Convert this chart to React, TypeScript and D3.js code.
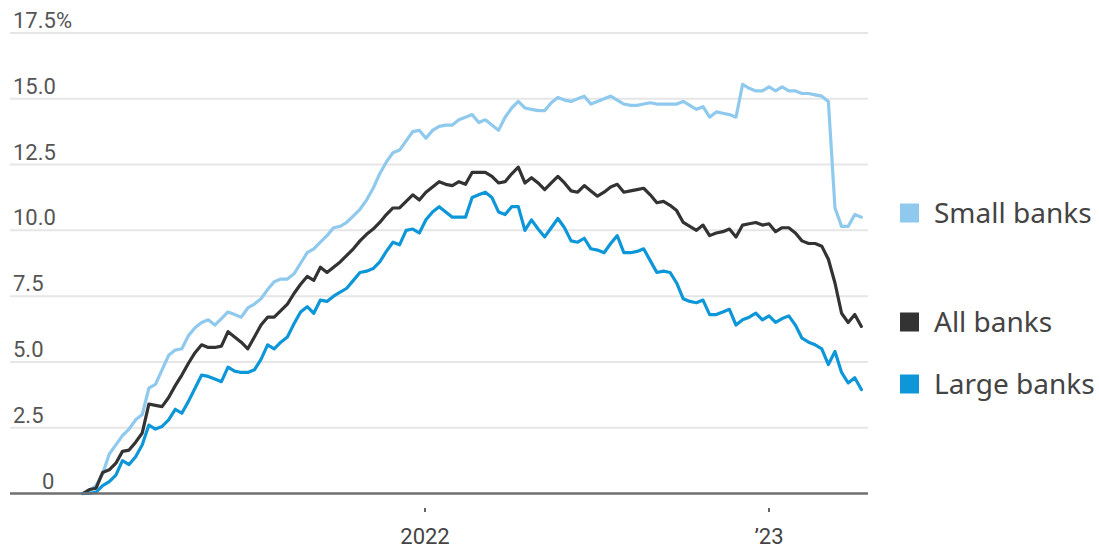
import * as d3 from 'd3';

// weekly readings, first week ending 2021-01-03
const startDate = new Date(2021, 0, 3);

const smallBanks = [
  0, 0.1, 0.3, 0.75, 1.5, 1.85, 2.2, 2.45, 2.8, 3.0,
  4.0, 4.15, 4.7, 5.25, 5.45, 5.5, 6.0, 6.3, 6.5, 6.6,
  6.4, 6.65, 6.9, 6.8, 6.7, 7.05, 7.2, 7.4, 7.75, 8.05,
  8.15, 8.15, 8.35, 8.75, 9.15, 9.3, 9.55, 9.8, 10.1, 10.15,
  10.3, 10.55, 10.8, 11.15, 11.6, 12.15, 12.6, 12.95, 13.05, 13.4,
  13.75, 13.8, 13.5, 13.8, 13.95, 14.0, 14.0, 14.2, 14.3, 14.4,
  14.1, 14.2, 14.0, 13.8, 14.3, 14.65, 14.9, 14.65, 14.6, 14.55,
  14.55, 14.85, 15.05, 14.95, 14.9, 15.0, 15.1, 14.8, 14.9, 15.0,
  15.1, 14.95, 14.8, 14.75, 14.75, 14.8, 14.85, 14.8, 14.8, 14.8,
  14.8, 14.9, 14.75, 14.6, 14.7, 14.3, 14.5, 14.45, 14.4, 14.3,
  15.55, 15.4, 15.3, 15.3, 15.45, 15.3, 15.45, 15.3, 15.3, 15.2,
  15.2, 15.15, 15.1, 14.9, 10.85, 10.15, 10.15, 10.6, 10.5,
];

const allBanks = [
  0, 0.15, 0.2, 0.8, 0.9, 1.15, 1.6, 1.65, 1.95, 2.3,
  3.4, 3.35, 3.3, 3.65, 4.1, 4.5, 4.95, 5.35, 5.65, 5.55,
  5.55, 5.6, 6.15, 5.95, 5.75, 5.5, 5.95, 6.4, 6.7, 6.7,
  6.95, 7.2, 7.6, 7.95, 8.25, 8.1, 8.6, 8.4, 8.6, 8.8,
  9.05, 9.3, 9.6, 9.85, 10.05, 10.3, 10.6, 10.85, 10.85, 11.1,
  11.35, 11.15, 11.45, 11.65, 11.85, 11.75, 11.7, 11.85, 11.75, 12.2,
  12.2, 12.2, 12.05, 11.8, 11.85, 12.15, 12.4, 11.8, 12.0, 11.8,
  11.55, 11.8, 12.05, 11.8, 11.5, 11.45, 11.7, 11.5, 11.3, 11.45,
  11.65, 11.75, 11.45, 11.5, 11.55, 11.6, 11.35, 11.05, 11.1, 10.95,
  10.75, 10.3, 10.15, 10.0, 10.2, 9.8, 9.9, 9.95, 10.05, 9.75,
  10.2, 10.25, 10.3, 10.2, 10.25, 9.95, 10.1, 10.1, 9.9, 9.6,
  9.5, 9.5, 9.4, 8.9, 8.0, 6.85, 6.5, 6.8, 6.35,
];

const largeBanks = [
  0, 0, 0.05, 0.3, 0.45, 0.7, 1.25, 1.1, 1.4, 1.85,
  2.6, 2.45, 2.55, 2.8, 3.2, 3.05, 3.5, 4.0, 4.5, 4.45,
  4.35, 4.25, 4.8, 4.65, 4.6, 4.6, 4.7, 5.1, 5.65, 5.5,
  5.75, 5.95, 6.45, 6.9, 7.1, 6.85, 7.35, 7.3, 7.5, 7.65,
  7.8, 8.1, 8.4, 8.45, 8.55, 8.8, 9.2, 9.55, 9.45, 10.0,
  10.05, 9.9, 10.4, 10.7, 10.9, 10.7, 10.5, 10.5, 10.5, 11.25,
  11.35, 11.45, 11.25, 10.7, 10.6, 10.9, 10.9, 10.0, 10.4, 10.05,
  9.75, 10.1, 10.45, 10.1, 9.6, 9.55, 9.7, 9.3, 9.25, 9.15,
  9.5, 9.8, 9.15, 9.15, 9.2, 9.3, 8.85, 8.4, 8.45, 8.4,
  8.0, 7.4, 7.3, 7.25, 7.35, 6.8, 6.8, 6.9, 7.0, 6.4,
  6.6, 6.7, 6.85, 6.6, 6.75, 6.5, 6.65, 6.75, 6.4, 5.9,
  5.75, 5.65, 5.5, 4.9, 5.4, 4.6, 4.2, 4.4, 3.95,
];

const yTicks = [0, 2.5, 5, 7.5, 10, 12.5, 15, 17.5];
const xTicks = [new Date(2022, 0, 1), new Date(2023, 0, 1)];
const xTickLabels = ['2022', '\u201923'];

const seriesNames = ['Small banks', 'All banks', 'Large banks'];
const seriesColors = ['#8fcaee', '#333333', '#0e97d8'];

const W = 1099;
const H = 551;
const tickFont = "'Liberation Sans Narrow', 'Roboto', sans-serif";

export default function App() {
  const dates = smallBanks.map((_, i) => d3.timeDay.offset(startDate, i * 7));

  const x = d3
    .scaleTime()
    .domain([new Date(2022, 0, 1), new Date(2023, 0, 1)])
    .range([425, 769]);
  const y = d3.scaleLinear().domain([0, 17.5]).range([493.5, 33]);

  const line = d3
    .line<number>()
    .x((_, i) => x(dates[i]))
    .y(d => y(d));

  const series = [smallBanks, allBanks, largeBanks];
  const gridLeft = 10;
  const gridRight = 868;

  return (
    <svg
      width={W}
      height={H}
      style={{ position: 'absolute', left: 0, top: 0, background: '#fff' }}
    >
      {/* grid + y labels */}
      {yTicks.map(t => (
        <g key={t}>
          {t !== 0 && (
            <line
              x1={gridLeft}
              x2={gridRight}
              y1={y(t)}
              y2={y(t)}
              stroke="#e6e6e6"
              strokeWidth={2}
            />
          )}
          <text
            x={t === 0 ? 42 : 13}
            y={y(t) - 5}
            fontFamily={tickFont}
            fontSize={22}
            fill="#555"
          >
            {t === 17.5 ? '17.5%' : t === 0 ? '0' : t.toFixed(1)}
          </text>
        </g>
      ))}

      {/* lines */}
      {series.map((s, k) => (
        <path
          key={seriesNames[k]}
          d={line(s) || ''}
          fill="none"
          stroke={seriesColors[k]}
          strokeWidth={3.2}
          strokeLinejoin="round"
          strokeLinecap="round"
        />
      ))}

      {/* zero axis */}
      <line
        x1={gridLeft}
        x2={gridRight}
        y1={y(0)}
        y2={y(0)}
        stroke="#6f6f6f"
        strokeWidth={2.5}
      />

      {/* x ticks */}
      {xTicks.map((t, i) => (
        <g key={xTickLabels[i]}>
          <line
            x1={x(t)}
            x2={x(t)}
            y1={508}
            y2={512}
            stroke="#333"
            strokeWidth={1.5}
          />
          <text
            x={x(t)}
            y={544}
            textAnchor="middle"
            fontFamily={tickFont}
            fontSize={22}
            fill="#444"
          >
            {xTickLabels[i]}
          </text>
        </g>
      ))}

      {/* legend */}
      {seriesNames.map((name, k) => {
        const cy = [213, 322, 384][k];
        return (
          <g key={name}>
            <rect x={900} y={cy - 9.5} width={19} height={19} fill={seriesColors[k]} />
            <text
              x={934}
              y={cy + 10}
              fontFamily="'Noto Sans', sans-serif"
              fontSize={28}
              fill="#444"
            >
              {name}
            </text>
          </g>
        );
      })}
    </svg>
  );
}
